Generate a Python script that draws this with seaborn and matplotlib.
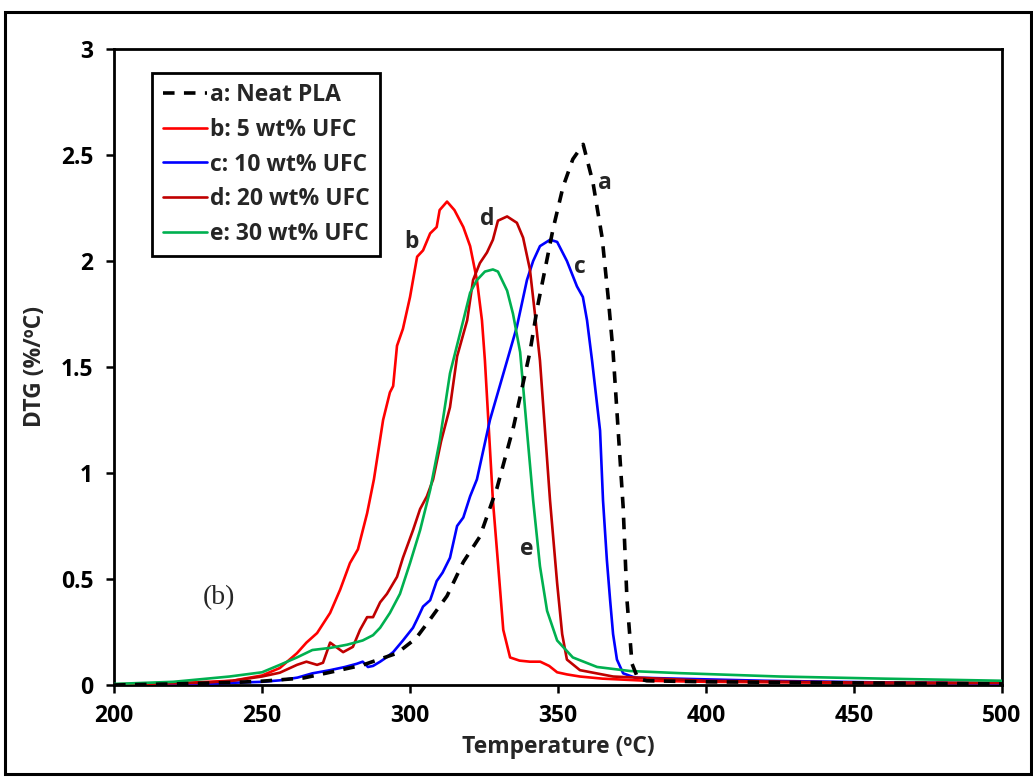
import matplotlib
matplotlib.use("Agg")
import matplotlib.pyplot as plt
from matplotlib.patches import Rectangle
import seaborn as sns
import pandas as pd

# DTG curves of PLA and PLA/UFC composites: temperature (ºC) and DTG (%/ºC)
temp_a = [200, 220, 240, 250, 264, 273, 284, 295.6, 302, 306.8, 312.5, 318, 323.6, 329.4,
          335, 340.5, 343, 345.6, 348.3, 351.7, 355, 358.5, 361.8, 364.9, 367, 368.6, 372,
          373.3, 375, 377, 380, 400, 450, 500]
dtg_a = [0.0, 0.005, 0.012, 0.018, 0.033, 0.06, 0.094, 0.15, 0.22, 0.31, 0.42, 0.58, 0.70, 0.93,
         1.22, 1.57, 1.78, 1.96, 2.15, 2.35, 2.48, 2.55, 2.37, 2.11, 1.82, 1.57, 0.84,
         0.40, 0.10, 0.03, 0.02, 0.015, 0.01, 0.005]

temp_b = [200, 220, 240, 250, 256, 261.8, 265, 268.6, 273, 276.4, 279.7, 282.4, 285.5, 287.8,
          290.9, 293.2, 294.3, 295.6, 297.6, 300, 302.4, 304.4, 306.8, 309, 310, 312.5, 315,
          318, 320.3, 322.6, 324.3, 325.3, 328, 329.8, 331.5, 333.8, 337, 340.5, 344, 347,
          349.7, 353, 357.4, 365, 380, 400, 450, 500]
dtg_b = [0.003, 0.008, 0.02, 0.045, 0.08, 0.15, 0.20, 0.245, 0.34, 0.45, 0.575, 0.64, 0.81, 0.97,
         1.25, 1.38, 1.41, 1.6, 1.68, 1.83, 2.02, 2.05, 2.13, 2.16, 2.24, 2.28, 2.24,
         2.16, 2.07, 1.91, 1.72, 1.53, 0.87, 0.56, 0.26, 0.13, 0.115, 0.11, 0.11, 0.09,
         0.06, 0.05, 0.04, 0.03, 0.02, 0.015, 0.01, 0.008]

temp_c = [200, 230, 250, 256, 262, 267, 273, 278, 282, 284, 285.8, 287.5, 289.9, 292, 294.3,
          297.6, 301, 302.4, 304.4, 306.8, 309, 311, 313.5, 315.9, 318, 320.3, 322.6, 327,
          332.8, 336.1, 339.5, 341.6, 343.9, 347.3, 349.7, 353, 356.4, 358.4, 359.8, 361.5,
          364.2, 365.2, 366.5, 367.6, 368.6, 369.9, 372, 376, 390, 420, 460, 500]
dtg_c = [0.002, 0.006, 0.015, 0.022, 0.035, 0.055, 0.07, 0.085, 0.10, 0.11, 0.085, 0.09, 0.11,
         0.13, 0.155, 0.21, 0.27, 0.31, 0.37, 0.40, 0.49, 0.53, 0.60, 0.75, 0.79, 0.89, 0.97,
         1.25, 1.53, 1.69, 1.91, 2.0, 2.07, 2.10, 2.09, 2.0, 1.88, 1.83, 1.72, 1.53,
         1.2, 0.87, 0.59, 0.40, 0.24, 0.12, 0.055, 0.035, 0.03, 0.02, 0.012, 0.008]

temp_d = [200, 230, 240, 250, 256, 261.8, 265, 268.6, 270.6, 273, 277.4, 280.7, 283.1, 285.5,
          287.5, 289.9, 292.2, 295.6, 297.6, 301, 303.4, 305.7, 307.8, 310.5, 313.5, 315.9,
          319.3, 321.3, 323.6, 326, 328, 329.7, 332.8, 336.1, 338.2, 340.5, 342.2, 343.9,
          347.3, 349.7, 351.4, 353, 357.4, 368.6, 400, 450, 500]
dtg_d = [0.003, 0.01, 0.02, 0.04, 0.058, 0.095, 0.11, 0.095, 0.105, 0.2, 0.155, 0.18, 0.26, 0.32,
         0.32, 0.39, 0.43, 0.51, 0.60, 0.73, 0.83, 0.89, 0.97, 1.15, 1.31, 1.55,
         1.72, 1.91, 1.99, 2.04, 2.10, 2.19, 2.21, 2.18, 2.11, 1.96, 1.75, 1.53,
         0.87, 0.48, 0.24, 0.12, 0.07, 0.04, 0.02, 0.012, 0.01]

temp_e = [200, 220, 239, 250, 256, 261.8, 267, 273, 278.7, 284, 287.5, 289.9, 293.2, 296.6,
          300, 303.4, 306.8, 310, 313.5, 318, 320.3, 322.6, 325.3, 328, 329.7, 332.8, 334.8,
          337.2, 339.5, 341.6, 343.9, 346.3, 349.7, 355, 363.2, 374.3, 391, 425, 460, 500]
dtg_e = [0.005, 0.015, 0.04, 0.06, 0.095, 0.13, 0.165, 0.175, 0.19, 0.21, 0.235, 0.27, 0.34, 0.43,
         0.575, 0.73, 0.92, 1.15, 1.47, 1.72, 1.85, 1.91, 1.95, 1.96, 1.95, 1.86, 1.75,
         1.57, 1.2, 0.87, 0.56, 0.35, 0.21, 0.13, 0.085, 0.066, 0.056, 0.04, 0.03, 0.02]

series_names = ["a: Neat PLA", "b: 5 wt% UFC", "c: 10 wt% UFC", "d: 20 wt% UFC", "e: 30 wt% UFC"]
curve_tags = ["a", "b", "c", "d", "e"]
x_ticks = [200, 250, 300, 350, 400, 450, 500]
y_ticks = [0, 0.5, 1, 1.5, 2, 2.5, 3]
y_tick_labels = ["0", "0.5", "1", "1.5", "2", "2.5", "3"]

temps = [temp_a, temp_b, temp_c, temp_d, temp_e]
dtgs = [dtg_a, dtg_b, dtg_c, dtg_d, dtg_e]
df = pd.concat(
    [pd.DataFrame({"Temperature": t, "DTG": v, "Sample": n})
     for t, v, n in zip(temps, dtgs, series_names)],
    ignore_index=True,
)

sns.set_theme(style="white")
plt.rcParams["font.family"] = ["Open Sans", "DejaVu Sans"]
plt.rcParams["font.weight"] = "bold"

colors = ["#000000", "#FF0000", "#0000FF", "#C00000", "#00B050"]
widths = [2.6, 1.9, 1.9, 1.9, 1.9]
FS = 16.5

fig = plt.figure(figsize=(10.33, 7.77), dpi=100)
ax = fig.add_axes([0.1104, 0.1184, 0.8596, 0.8186])

for i, name in enumerate(series_names):
    sub = df[df["Sample"] == name]
    ls = (0, (3.2, 2.6)) if i == 0 else "-"
    sns.lineplot(data=sub, x="Temperature", y="DTG", ax=ax, color=colors[i],
                 linewidth=widths[i], linestyle=ls, label=name, sort=False,
                 zorder=4 if i == 0 else 3, estimator=None)

ax.set_xlim(200, 500)
ax.set_ylim(0, 3)
ax.set_xticks(x_ticks)
ax.set_yticks(y_ticks)
ax.set_yticklabels(y_tick_labels)
ax.tick_params(axis="both", direction="out", length=6, width=1.8, labelsize=FS,
               bottom=True, left=True, colors="black")
ax.tick_params(axis="x", pad=8)
ax.tick_params(axis="y", pad=9)
for lab in ax.get_xticklabels() + ax.get_yticklabels():
    lab.set_fontweight("bold")
for sp in ax.spines.values():
    sp.set_linewidth(2.0)
    sp.set_color("black")

ax.set_xlabel("Temperature (ºC)", fontsize=FS, fontweight="bold", labelpad=5)
ax.set_ylabel("DTG (%/ºC)", fontsize=FS, fontweight="bold", labelpad=10)

# curve tags next to each peak
tag_pos = [(366, 2.37), (300.5, 2.09), (357.5, 1.97), (326, 2.2), (339.5, 0.64)]
for tag, (tx, ty) in zip(curve_tags, tag_pos):
    ax.text(tx, ty, tag, fontsize=FS, fontweight="bold", ha="center", va="center")

ax.text(235.5, 0.41, "(b)", fontsize=20, family="Liberation Serif", fontweight="normal",
        ha="center", va="center")

leg = ax.legend(loc="upper left", bbox_to_anchor=(0.043, 0.962), fontsize=16.5,
                frameon=True, fancybox=False, framealpha=1, edgecolor="black",
                handlelength=1.95, handletextpad=0.12, labelspacing=0.46,
                borderpad=0.45, borderaxespad=0)
leg.get_frame().set_linewidth(2.0)
for t in leg.get_texts():
    t.set_fontweight("bold")

# outer frame around the whole figure
fig.patches.append(Rectangle((0.0048, 0.0039), 0.9932, 0.9807, transform=fig.transFigure,
                             fill=False, edgecolor="black", linewidth=2.2))

fig.savefig("out.png", dpi=100)
